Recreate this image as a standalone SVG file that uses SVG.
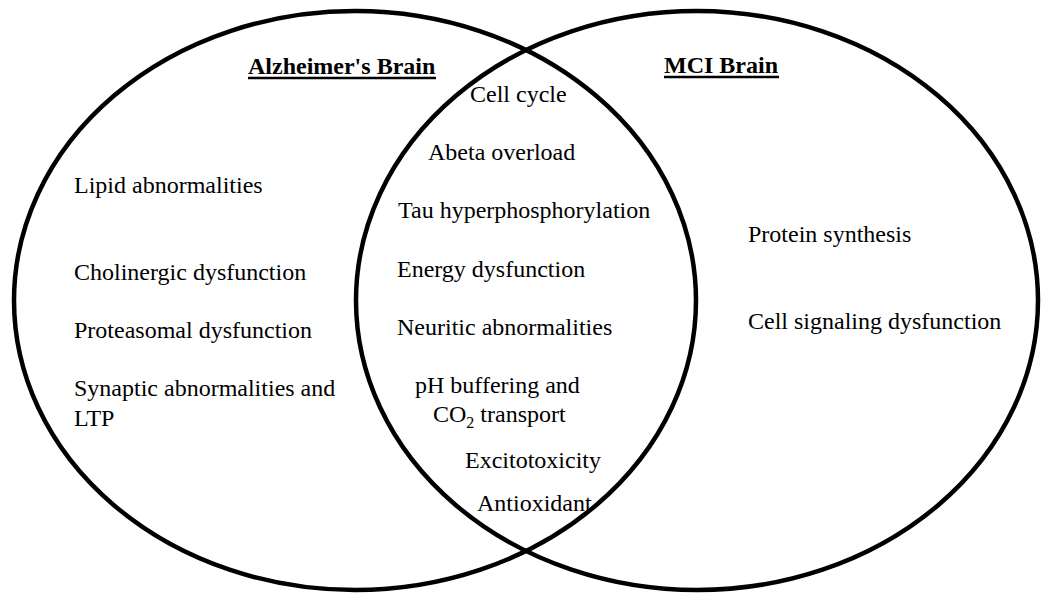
<svg xmlns="http://www.w3.org/2000/svg" width="1050" height="608" viewBox="0 0 1050 608">
<style>
.c{fill:none;stroke:#000;stroke-width:4.5}
text{font-family:"Liberation Serif","Times New Roman",serif;font-size:24px;fill:#000}
.h{font-weight:bold}
.u{stroke:#000;stroke-width:2.5}
</style>
<rect width="1050" height="608" fill="#fff"/>
<g id="set-alzheimers">
<ellipse class="c" cx="355" cy="300.5" rx="341" ry="289.5"/>
<text class="h" x="248" y="74">Alzheimer's Brain</text>
<line class="u" x1="248" y1="78" x2="436" y2="78"/>
<text x="74" y="193">Lipid abnormalities</text>
<text x="74" y="280">Cholinergic dysfunction</text>
<text x="74" y="338">Proteasomal dysfunction</text>
<text x="74" y="396">Synaptic abnormalities and</text>
<text x="74" y="426">LTP</text>
</g>
<g id="set-mci">
<ellipse class="c" cx="697" cy="300.5" rx="341" ry="289.5"/>
<text class="h" x="664" y="73">MCI Brain</text>
<line class="u" x1="664" y1="77" x2="779" y2="77"/>
<text x="748" y="242">Protein synthesis</text>
<text x="748" y="329">Cell signaling dysfunction</text>
</g>
<g id="overlap">
<text x="470" y="102">Cell cycle</text>
<text x="428" y="160">Abeta overload</text>
<text x="398" y="218">Tau hyperphosphorylation</text>
<text x="397" y="277">Energy dysfunction</text>
<text x="397" y="335">Neuritic abnormalities</text>
<text x="415" y="393">pH buffering and</text>
<text x="433" y="422">CO<tspan font-size="16" dy="6">2</tspan><tspan dy="-6"> transport</tspan></text>
<text x="465" y="468">Excitotoxicity</text>
<text x="477" y="511">Antioxidant</text>
</g>
<g id="connectors"></g>
</svg>
